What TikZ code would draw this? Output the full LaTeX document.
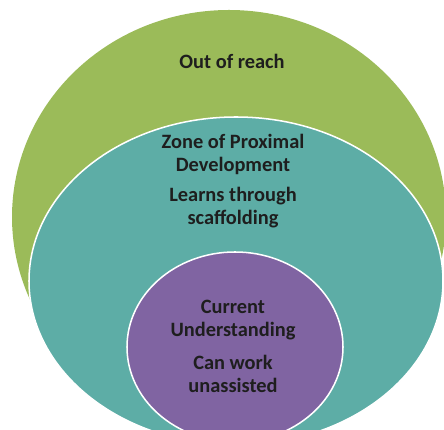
\documentclass[tikz,border=0pt]{standalone}
\usepackage{fontspec}
\setmainfont{Carlito}
\usepackage{xcolor}
\usepackage{tikz}
\definecolor{reach}{HTML}{9BBB59}
\definecolor{zpd}{HTML}{5DADA6}
\definecolor{cur}{HTML}{8064A2}
\definecolor{ink}{HTML}{1E1E1E}
\tikzset{
  zone/.style={draw=white, line width=1.3pt},
  lab/.style={text=ink, font=\fontsize{17.4}{19.6}\selectfont\bfseries, align=center, inner sep=0pt},
}

\begin{document}
\begin{tikzpicture}[x=0.03cm,y=0.03cm]
  \useasboundingbox (0,0) rectangle (444,430);
  \clip (0,0) rectangle (444,430);
  \fill[reach] (229,213) ellipse [x radius=217, y radius=207];
  \filldraw[zone, fill=zpd] (236,149) ellipse [x radius=207, y radius=164];
  \filldraw[zone, fill=cur] (235,83) ellipse [x radius=108, y radius=95];
  \node[lab] (reach) at (232,369) {Out of reach};
  \node[lab] (zpd) at (233,276) {Zone of Proximal\\Development};
  \node[lab] (zpdnote) at (233,222) {Learns through\\scaffolding};
  \node[lab] (cur) at (233,110) {Current\\Understanding};
  \node[lab] (curnote) at (233,56) {Can work\\unassisted};
\end{tikzpicture}
\end{document}
